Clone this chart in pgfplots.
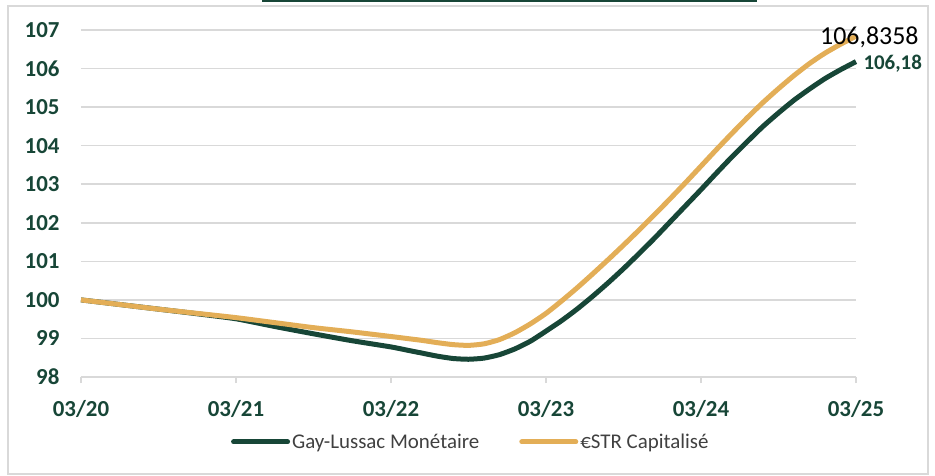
\documentclass[border=0pt]{standalone}
\usepackage{pgfplots}
\pgfplotsset{compat=1.18}
\usepackage{fontspec}
\setmainfont{Carlito}
\definecolor{dgreen}{RGB}{23,70,55}
\definecolor{gold}{RGB}{227,174,87}
\definecolor{gridgray}{RGB}{217,217,217}
\definecolor{legtext}{RGB}{64,64,64}
\begin{document}
\begin{tikzpicture}
\begin{axis}[
  at={(0,0)}, anchor=south west,
  scale only axis, width=775bp, height=347bp,
  xmin=0, xmax=5, ymin=98, ymax=107,
  clip=false,
  axis x line*=bottom, axis y line*=left,
  x axis line style={draw=gridgray, line width=1.5bp, -},
  y axis line style={draw=none},
  xtick={0,1,2,3,4,5},
  xticklabels={03/20,03/21,03/22,03/23,03/24,03/25},
  ytick={98,99,100,101,102,103,104,105,106,107},
  yticklabels={98,99,100,101,102,103,104,105,106,107},
  tick align=outside,
  major tick length=6bp,
  x tick style={draw=gridgray, line width=1.5bp},
  y tick style={draw=none},
  ymajorgrids,
  grid style={draw=gridgray, line width=1.5bp},
  ticklabel style={font=\fontsize{23}{23}\selectfont\bfseries, text=dgreen},
  xticklabel style={yshift=-14bp},
  yticklabel style={xshift=-12bp},
  legend columns=2,
  legend style={at={(0.503,-0.187)}, anchor=center, draw=none, fill=none,
    font=\fontsize{21}{21}\selectfont, text=legtext,
    /tikz/every even column/.append style={column sep=38bp},
    nodes={inner sep=2bp}},
  legend image code/.code={\draw[#1, line width=5bp, line cap=round] (0bp,0bp) -- (54bp,0bp);},
]
\addplot[dgreen, line width=5bp, smooth, tension=0.35, line join=round] coordinates {
(0,100.00) (0.25,99.88) (0.5,99.76) (0.75,99.64) (1.0,99.51) (1.25,99.31)
(1.5,99.12) (1.75,98.94) (2.0,98.78) (2.1,98.70) (2.2,98.62) (2.3,98.54)
(2.4,98.48) (2.5,98.46) (2.6,98.49) (2.7,98.58) (2.8,98.73) (2.9,98.93)
(3.0,99.19) (3.1,99.46) (3.2,99.76) (3.3,100.09) (3.4,100.44) (3.5,100.81)
(3.6,101.20) (3.7,101.60) (3.8,102.02) (3.9,102.44) (4.0,102.86) (4.1,103.29)
(4.2,103.71) (4.3,104.11) (4.4,104.50) (4.5,104.85) (4.6,105.18) (4.7,105.47)
(4.8,105.74) (4.9,105.97) (5.0,106.18)
} node[pos=1, anchor=west, xshift=5bp, yshift=-2bp, font=\fontsize{21}{21}\selectfont\bfseries, text=dgreen, inner sep=0pt] {106,18};
\addlegendentry{Gay-Lussac Monétaire}
\addplot[gold, line width=5bp, smooth, tension=0.35, line join=round] coordinates {
(0,100.00) (0.25,99.88) (0.5,99.76) (0.75,99.65) (1.0,99.54) (1.25,99.41)
(1.5,99.28) (1.75,99.17) (2.0,99.05) (2.1,99.00) (2.2,98.95) (2.3,98.89)
(2.4,98.84) (2.5,98.82) (2.6,98.86) (2.7,98.97) (2.8,99.15) (2.9,99.38)
(3.0,99.65) (3.1,99.97) (3.2,100.31) (3.3,100.67) (3.4,101.04) (3.5,101.42)
(3.6,101.81) (3.7,102.21) (3.8,102.62) (3.9,103.04) (4.0,103.47) (4.1,103.90)
(4.2,104.32) (4.3,104.73) (4.4,105.12) (4.5,105.48) (4.6,105.82) (4.7,106.13)
(4.8,106.40) (4.9,106.63) (5.0,106.84)
} node[pos=1, anchor=east, xshift=65bp, yshift=-1bp, font=\fontsize{26}{26}\selectfont, text=black, inner sep=0pt] {106,8358};
\addlegendentry{€STR Capitalisé}
\end{axis}
\draw[gridgray, line width=1.5bp] (-73bp,-97bp) rectangle (847bp,371bp);
\fill[dgreen] (181bp,377bp) rectangle (676bp,375bp);
\pgfresetboundingbox
\path[use as bounding box] (-81bp,-99bp) rectangle (854bp,377bp);
\end{tikzpicture}
\end{document}
